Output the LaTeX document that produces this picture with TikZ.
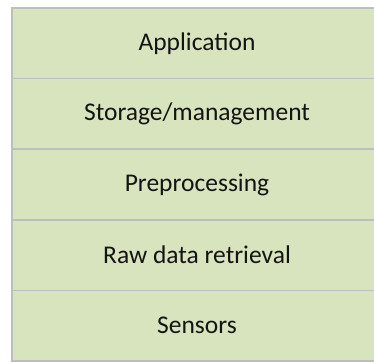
\documentclass[tikz,border=0pt]{standalone}
\usepackage{fontspec}
\setmainfont{Carlito}
\definecolor{layerfill}{HTML}{D7E4BD}
\definecolor{layerline}{HTML}{BEBEBE}
\tikzset{
  layer/.style={draw=layerline, line width=1.5pt, fill=layerfill, minimum width=370pt, minimum height=70.6pt, inner sep=0pt, outer sep=0pt, anchor=north west, font=\fontsize{25.5}{29}\selectfont, text=black!92},
}
\begin{document}
\begin{tikzpicture}[x=1pt,y=-1pt]
\node[layer] (app) at (12,8) {Application};
\node[layer] (stor) at (12,78.6) {Storage/management};
\node[layer] (pre) at (12,149.2) {Preprocessing};
\node[layer] (raw) at (12,219.8) {Raw data retrieval};
\node[layer] (sens) at (12,290.4) {Sensors};
\pgfresetboundingbox
\useasboundingbox (0,0) rectangle (374,363);
\end{tikzpicture}
\end{document}
